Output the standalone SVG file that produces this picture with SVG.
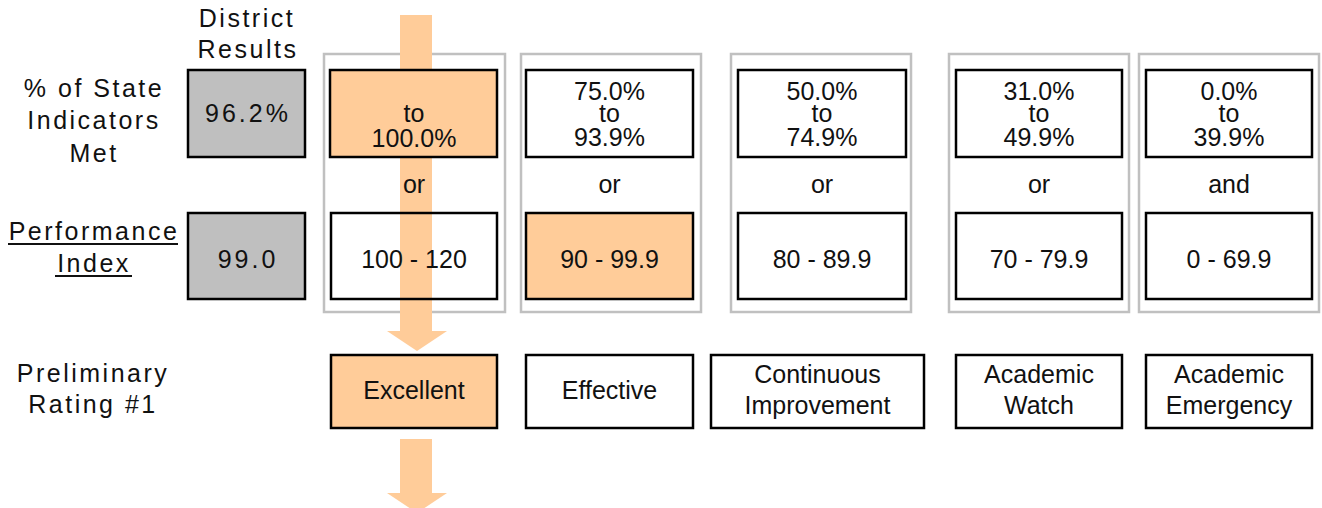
<svg xmlns="http://www.w3.org/2000/svg" width="1322" height="508" viewBox="0 0 1322 508">
<style>
text{font-family:"Liberation Sans",Arial,sans-serif;font-size:25px;fill:#111;text-anchor:middle}
.lbl{letter-spacing:2.5px}
.res{letter-spacing:3px}
.col{fill:none;stroke:#c0c0c0;stroke-width:2.5}
.box{fill:none;stroke:#000;stroke-width:2.5}
.hit{fill:#ffcc99;stroke:#000;stroke-width:2.5}
.gray{fill:#bfbfbf;stroke:#000;stroke-width:2.5}
.arrow{fill:#ffcc99}
.ul{stroke:#111;stroke-width:1.8}
</style>
<g id="labels">
<text class="lbl" x="247" y="27">District</text>
<text class="lbl" x="248" y="58">Results</text>
<text class="lbl" x="94" y="97">% of State</text>
<text class="lbl" x="94" y="129">Indicators</text>
<text class="lbl" x="94" y="162">Met</text>
<text class="lbl" x="94" y="240">Performance</text>
<line class="ul" x1="8" y1="244" x2="178" y2="244"/>
<text class="lbl" x="94" y="272">Index</text>
<line class="ul" x1="55" y1="276" x2="132" y2="276"/>
<text class="lbl" x="93" y="382">Preliminary</text>
<text class="lbl" x="93" y="413">Rating #1</text>
</g>
<g id="columns">
<rect class="col" x="324" y="54" width="181" height="258"/>
<rect class="col" x="521" y="54" width="180" height="258"/>
<rect class="col" x="731" y="54" width="180" height="258"/>
<rect class="col" x="949" y="54" width="180" height="258"/>
<rect class="col" x="1139" y="54" width="180" height="258"/>
</g>
<g id="connectors">
<path class="arrow" d="M400 15 H432 V331 H447 L417 351 L387 331 H400 Z"/>
<path class="arrow" d="M400 439 H432 V493 H447 L417 513 L387 493 H400 Z"/>
</g>
<g id="district-pct">
<rect class="gray" x="188" y="70" width="117" height="87"/>
<text class="res" x="248" y="122">96.2%</text>
</g>
<g id="district-pi">
<rect class="gray" x="188" y="213" width="117" height="86"/>
<text class="res" x="248" y="268">99.0</text>
</g>
<g id="pct-excellent">
<rect class="hit" x="330" y="70" width="167" height="87"/>
<text x="414" y="122">to</text>
<text x="414" y="147">100.0%</text>
</g>
<g id="pct-effective">
<rect class="box" x="526" y="70" width="167" height="87"/>
<text x="609.5" y="100">75.0%</text>
<text x="609.5" y="122">to</text>
<text x="609.5" y="146">93.9%</text>
</g>
<g id="pct-continuous">
<rect class="box" x="738" y="70" width="168" height="87"/>
<text x="822" y="100">50.0%</text>
<text x="822" y="122">to</text>
<text x="822" y="146">74.9%</text>
</g>
<g id="pct-watch">
<rect class="box" x="956" y="70" width="166" height="87"/>
<text x="1039" y="100">31.0%</text>
<text x="1039" y="122">to</text>
<text x="1039" y="146">49.9%</text>
</g>
<g id="pct-emergency">
<rect class="box" x="1146" y="70" width="166" height="87"/>
<text x="1229" y="100">0.0%</text>
<text x="1229" y="122">to</text>
<text x="1229" y="146">39.9%</text>
</g>
<g id="conjunctions">
<text x="414" y="193">or</text>
<text x="609.5" y="193">or</text>
<text x="822" y="193">or</text>
<text x="1039" y="193">or</text>
<text x="1229" y="193">and</text>
</g>
<g id="pi-excellent">
<rect class="box" x="331" y="213" width="166" height="86"/>
<text x="414" y="268">100 - 120</text>
</g>
<g id="pi-effective">
<rect class="hit" x="526" y="213" width="167" height="86"/>
<text x="609.5" y="268">90 - 99.9</text>
</g>
<g id="pi-continuous">
<rect class="box" x="738" y="213" width="168" height="86"/>
<text x="822" y="268">80 - 89.9</text>
</g>
<g id="pi-watch">
<rect class="box" x="956" y="213" width="166" height="86"/>
<text x="1039" y="268">70 - 79.9</text>
</g>
<g id="pi-emergency">
<rect class="box" x="1146" y="213" width="166" height="86"/>
<text x="1229" y="268">0 - 69.9</text>
</g>
<g id="rating-excellent">
<rect class="hit" x="331" y="355" width="166" height="73"/>
<text x="414" y="399">Excellent</text>
</g>
<g id="rating-effective">
<rect class="box" x="526" y="355" width="167" height="73"/>
<text x="609.5" y="399">Effective</text>
</g>
<g id="rating-continuous">
<rect class="box" x="711" y="355" width="213" height="73"/>
<text x="817.5" y="383">Continuous</text>
<text x="817.5" y="414">Improvement</text>
</g>
<g id="rating-watch">
<rect class="box" x="956" y="355" width="166" height="73"/>
<text x="1039" y="383">Academic</text>
<text x="1039" y="414">Watch</text>
</g>
<g id="rating-emergency">
<rect class="box" x="1146" y="355" width="166" height="73"/>
<text x="1229" y="383">Academic</text>
<text x="1229" y="414">Emergency</text>
</g>
</svg>
